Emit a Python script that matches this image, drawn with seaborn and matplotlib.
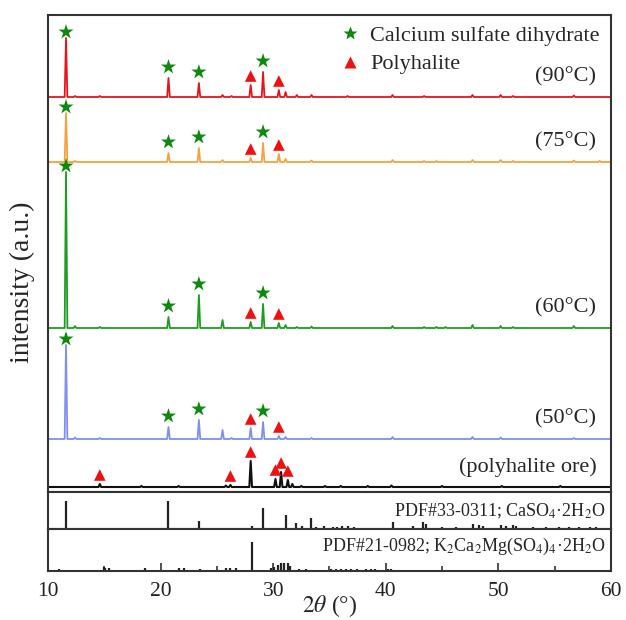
import numpy as np
import pandas as pd
import matplotlib
matplotlib.use("Agg")
import matplotlib.pyplot as plt
import seaborn as sns
from matplotlib.lines import Line2D
from matplotlib.ticker import MultipleLocator

# ---------------- data ----------------
# Stacked XRD traces: peak positions (2theta, deg), peak intensities (a.u.),
# phase marker: "G" = calcium sulfate dihydrate (star), "P" = polyhalite (triangle)
labels = ["(90°C)", "(75°C)", "(60°C)", "(50°C)", "(polyhalite ore)"]
offsets = [395, 330, 164, 53, 5]

pos_90 = [11.6, 12.4, 14.6, 20.7, 23.4, 25.5, 26.3, 28.0, 29.1, 30.5, 31.1, 32.1, 33.4, 36.6, 40.6, 43.4, 47.7, 50.2, 51.3, 56.7]
int_90 = [59, 1, 1, 19, 14, 2, 1, 12, 25, 7, 5, 2, 2, 1, 2, 1, 2, 2, 1, 1.5]
phase_90 = ["G", "", "", "G", "G", "", "", "P", "G", "P", "", "", "", "", "", "", "", "", "", ""]

pos_75 = [11.6, 12.4, 20.7, 23.4, 25.5, 28.0, 29.1, 30.5, 31.1, 33.4, 40.6, 43.4, 44.5, 47.7, 50.2, 51.3, 56.7, 59.0]
int_75 = [49, 1, 9, 14, 2, 4, 19, 8, 3, 1.5, 2, 1, 1, 2, 2, 1, 1.5, 1]
phase_75 = ["G", "", "G", "G", "", "P", "G", "P", "", "", "", "", "", "", "", "", "", ""]

pos_60 = [11.6, 12.4, 14.6, 20.7, 23.4, 25.5, 28.0, 29.1, 30.5, 31.1, 32.1, 33.4, 40.6, 43.4, 44.5, 45.3, 47.7, 50.2, 51.3, 56.7]
int_60 = [156, 2, 1, 11, 33, 8, 6, 24, 5, 3, 1, 1.5, 2, 1, 1, 1, 3, 2, 1, 2]
phase_60 = ["G", "", "", "G", "G", "", "P", "G", "P", "", "", "", "", "", "", "", "", "", "", ""]

pos_50 = [11.6, 12.4, 14.6, 20.7, 23.4, 25.5, 26.3, 28.0, 29.1, 30.5, 31.1, 33.4, 40.6, 47.7, 50.2, 56.7]
int_50 = [94, 1.5, 1, 12, 19, 9, 1, 11, 17, 3, 2, 1, 2, 2, 1.5, 1]
phase_50 = ["G", "", "", "G", "G", "", "", "P", "G", "P", "", "", "", "", "", ""]

pos_ore = [14.6, 18.3, 21.6, 25.8, 26.2, 28.0, 30.2, 30.7, 31.3, 31.7, 32.5, 34.6, 36.0, 38.4, 40.5, 45.0, 50.3, 55.5]
int_ore = [3, 1, 1, 1.5, 2, 26, 8, 15, 7, 3, 1, 1, 1, 1, 1.5, 1, 1, 1]
phase_ore = ["P", "", "", "", "P", "P", "P", "P", "P", "", "", "", "", "", "", "", "", ""]

trace_pos = [pos_90, pos_75, pos_60, pos_50, pos_ore]
trace_int = [int_90, int_75, int_60, int_50, int_ore]
trace_phase = [phase_90, phase_75, phase_60, phase_50, phase_ore]
trace_colors = ["#e8141c", "#f5a23c", "#1e9e1e", "#7f8ff0", "#111111"]

# Reference stick patterns
ref1_pos = [11.6, 20.7, 23.4, 28.1, 29.1, 31.1, 32.0, 32.6, 33.4, 33.8, 34.5, 35.3, 35.7, 36.1, 36.6, 37.2,
            40.6, 42.4, 43.3, 43.6, 45.0, 46.2, 47.7, 48.3, 48.6, 50.2, 50.7, 51.3, 51.6, 53.1, 54.2,
            55.4, 56.3, 57.2, 58.1, 58.7]
ref1_int = [27.7, 27.7, 8, 3, 21, 14, 6, 3, 11, 2, 3, 2.5, 2, 3, 3, 2,
            7, 3, 7, 5, 2, 2.5, 5, 4, 3, 4, 3, 4, 3, 2, 2,
            2, 2, 2, 2, 2]
ref1_label = r"PDF#33-0311; CaSO$_4$·2H$_2$O"

ref2_pos = [11.0, 14.95, 15.1, 15.4, 18.6, 21.6, 22.1, 23.5, 25.8, 26.2, 26.7, 28.16, 29.8, 30.1, 30.4, 30.7,
            31.0, 31.3, 31.5, 32.3, 32.9, 35.1, 35.6, 36.0, 36.5, 36.9, 37.4, 38.2, 38.7, 39.0, 40.2, 40.5]
ref2_int = [2.5, 4, 3.5, 3, 3, 3, 3, 2.5, 3, 3.5, 3, 29, 3, 4, 6, 8,
            8, 8, 5, 2.5, 2.5, 2, 2.5, 2, 2, 2.5, 2, 2, 2.5, 2, 2.5, 2.5]
ref2_label = r"PDF#21-0982; K$_2$Ca$_2$Mg(SO$_4$)$_4$·2H$_2$O"

legend_labels = ["Calcium sulfate dihydrate", "Polyhalite"]
x_ticks = [10, 20, 30, 40, 50, 60]

# ---------------- styling ----------------
sns.set_theme(style="ticks")
plt.rcParams["font.family"] = ["Liberation Serif", "DejaVu Serif"]
plt.rcParams["mathtext.fontset"] = "stix"
STAR_C = "#0d8a0d"
TRI_C = "#ee1111"
SPINE_C = "#333333"

fig = plt.figure(figsize=(6.26, 6.20), dpi=100)
L, W = 48 / 626, 563 / 626
ax = fig.add_axes([L, (620 - 492) / 620, W, 477 / 620])
ax1 = fig.add_axes([L, (620 - 529) / 620, W, 37 / 620], sharex=ax)
ax2 = fig.add_axes([L, (620 - 571) / 620, W, 42 / 620], sharex=ax)

HW = 0.12
for pos, inten, phase, base, col, lab in zip(trace_pos, trace_int, trace_phase, offsets, trace_colors, labels):
    order = np.argsort(pos)
    xs, ys = [10.0], [base]
    for i in order:
        xs += [pos[i] - HW, pos[i], pos[i] + HW]
        ys += [base, base + inten[i], base]
    xs.append(60.0)
    ys.append(base)
    df = pd.DataFrame({"x": xs, "y": ys})
    sns.lineplot(data=df, x="x", y="y", ax=ax, color=col, lw=1.3 if col != "#111111" else 1.5,
                 estimator=None, sort=False)
    g = pd.DataFrame({"x": [p for p, ph in zip(pos, phase) if ph == "G"],
                      "y": [base + h + (6 if h > 40 else 11) for h, ph in zip(inten, phase) if ph == "G"]})
    t = pd.DataFrame({"x": [p for p, ph in zip(pos, phase) if ph == "P"],
                      "y": [base + h + 9 for h, ph in zip(inten, phase) if ph == "P"]})
    if len(g):
        sns.scatterplot(data=g, x="x", y="y", ax=ax, marker="*", s=130, color=STAR_C, edgecolor="none", zorder=5)
    if len(t):
        sns.scatterplot(data=t, x="x", y="y", ax=ax, marker="^", s=70, color=TRI_C, edgecolor="none", zorder=5)
    ax.text(58.7, base + 20, lab, ha="right", va="center", fontsize=16)

ax.set_ylim(0, 477)
ax.set_xlim(10, 60)

handles = [Line2D([], [], ls="none", marker="*", ms=10, color=STAR_C, mec="none"),
           Line2D([], [], ls="none", marker="^", ms=8, color=TRI_C, mec="none")]
ax.legend(handles, legend_labels, loc="upper left", bbox_to_anchor=(0.485, 1.02), frameon=False,
          fontsize=16, handlelength=0.8, handletextpad=0.5, labelspacing=0.35)

ax1.vlines(ref1_pos, 0, ref1_int, color="#222222", lw=1.6)
ax1.set_ylim(0, 37)
ax1.text(0.99, 0.47, ref1_label, transform=ax1.transAxes, ha="right", va="center", fontsize=13)

ax2.vlines(ref2_pos, 0, ref2_int, color="#222222", lw=1.6)
ax2.set_ylim(0, 42)
ax2.text(0.99, 0.58, ref2_label, transform=ax2.transAxes, ha="right", va="center", fontsize=13)

for a in (ax, ax1, ax2):
    a.set_xlabel("")
    a.set_ylabel("")
    a.set_yticks([])
    for s in a.spines.values():
        s.set_color(SPINE_C)
        s.set_linewidth(1.5)
    a.tick_params(axis="x", which="both", bottom=False, labelbottom=False)

ax2.set_xticks(x_ticks)
ax2.xaxis.set_minor_locator(MultipleLocator(5))
ax2.tick_params(axis="x", which="major", direction="in", length=6, width=1.2, bottom=True,
                labelbottom=True, labelsize=15.5, pad=8, colors=SPINE_C, labelcolor="#222222")
ax2.tick_params(axis="x", which="minor", direction="in", length=3.5, width=1.2, bottom=True, colors=SPINE_C)

fig.text(330 / 626, 1 - 606 / 620, r"$\mathit{2}\theta$ (°)", ha="center", va="center", fontsize=17)
fig.text(0.036, 0.545, "intensity (a.u.)", rotation=90, ha="center", va="center", fontsize=20)

fig.savefig("out.png", dpi=100)
